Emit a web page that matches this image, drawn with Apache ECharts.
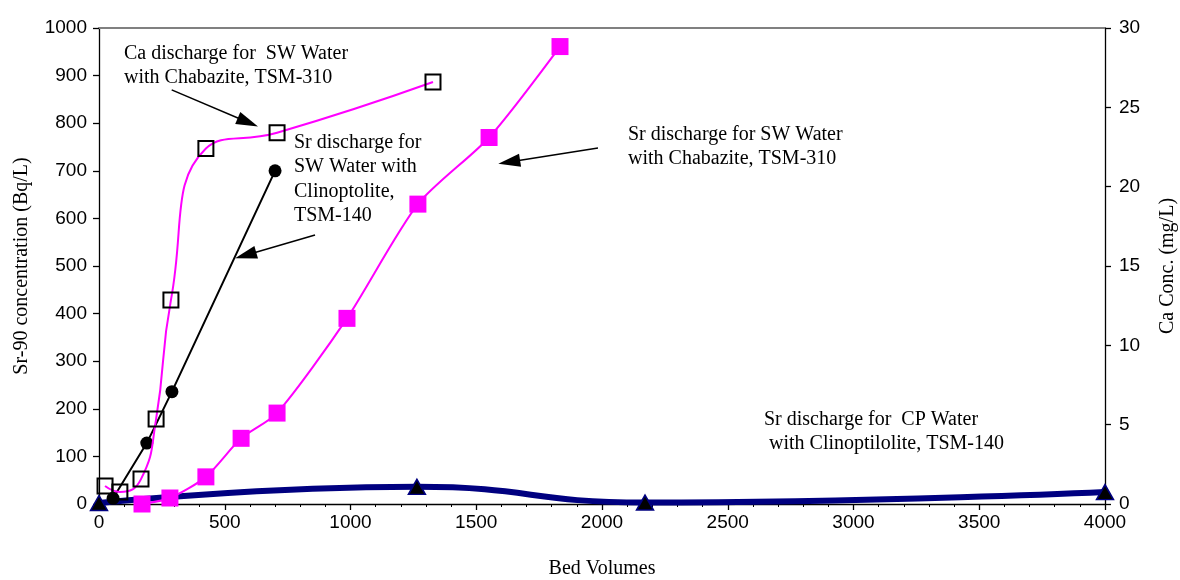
<!DOCTYPE html>
<html>
<head>
<meta charset="utf-8">
<script src="https://cdn.jsdelivr.net/npm/echarts@6/dist/echarts.min.js"></script>
<style>
  html, body { margin: 0; padding: 0; background: #fff; }
  #chart { width: 1180px; height: 580px; }
</style>
</head>
<body>
<div id="chart"></div>
<script>
// Ca discharge, SW water through Chabazite (TSM-310) — right axis, mg/L
const caBedVolumes = [24, 83, 167, 227, 286, 425, 708, 1328];
const caConc = [1.13, 0.76, 1.57, 5.35, 12.85, 22.4, 23.4, 26.6];

// Sr-90 discharge, SW water through Chabazite (TSM-310) — Bq/L
const srChabBedVolumes = [171, 282, 425, 565, 708, 986, 1268, 1551, 1833];
const srChabConc = [0, 12.6, 57, 138, 191, 390, 630, 770, 961];

// Sr-90 discharge, SW water through Clinoptilolite (TSM-140) — Bq/L
const srClinoBedVolumes = [56, 190, 290, 700];
const srClinoConc = [12, 128, 236, 700];

// Sr-90 discharge, CP water through Clinoptilolite (TSM-140) — Bq/L
const cpBedVolumes = [0, 1264, 2171, 4000];
const cpConc = [2, 36, 3, 25];

// Axis ranges and ticks
const xTicks = { min: 0, max: 4000, interval: 500 };
const srTicks = { min: 0, max: 1000, interval: 100 };
const caTicks = { min: 0, max: 30, interval: 5 };

const pairs = (xs, ys) => xs.map((x, i) => [x, ys[i]]);
const plain = v => String(v);

const serif = '"Liberation Serif", "Times New Roman", serif';
const sans = '"Liberation Sans", Arial, sans-serif';

const chart = echarts.init(document.getElementById('chart'), null, { renderer: 'canvas' });

const annoFont = '20px ' + serif;
const annotations = [
  { left: 124, top: 41, text: 'Ca discharge for  SW Water\nwith Chabazite, TSM-310' },
  { left: 294, top: 130, text: 'Sr discharge for\nSW Water with\nClinoptolite,\nTSM-140' },
  { left: 628, top: 122, text: 'Sr discharge for SW Water\nwith Chabazite, TSM-310' },
  { left: 764, top: 407, text: 'Sr discharge for  CP Water\n with Clinoptilolite, TSM-140' }
];

const axisLine = { show: true, onZero: false, lineStyle: { color: '#000', width: 1.3 } };
const tickStyle = { color: '#000', width: 1.3 };
const labelStyle = { fontFamily: sans, fontSize: 19, color: '#000', formatter: plain };

chart.setOption({
  animation: false,
  backgroundColor: '#fff',
  grid: { left: 99, right: 75, top: 28, bottom: 76, containLabel: false, outerBoundsMode: 'none' },
  xAxis: [
    {
      type: 'value', position: 'bottom', min: xTicks.min, max: xTicks.max, interval: xTicks.interval,
      name: 'Bed Volumes', nameLocation: 'middle', nameGap: 55,
      nameTextStyle: { fontFamily: serif, fontSize: 20, color: '#000' },
      axisLine: axisLine,
      axisTick: { show: true, length: 6, lineStyle: tickStyle },
      minorTick: { show: true, splitNumber: 5, length: 3, lineStyle: { color: '#000', width: 1 } },
      axisLabel: Object.assign({ margin: 9 }, labelStyle),
      splitLine: { show: false }
    },
    {
      type: 'value', position: 'top', min: xTicks.min, max: xTicks.max,
      axisLine: { show: true, onZero: false, lineStyle: { color: '#808080', width: 2 } },
      axisTick: { show: false }, axisLabel: { show: false },
      splitLine: { show: false }, minorTick: { show: false }
    }
  ],
  yAxis: [
    {
      type: 'value', position: 'left', min: srTicks.min, max: srTicks.max, interval: srTicks.interval,
      name: 'Sr-90 concentration (Bq/L)', nameLocation: 'middle', nameGap: 67, nameRotate: 90,
      nameTextStyle: { fontFamily: serif, fontSize: 20, color: '#000' },
      axisLine: axisLine,
      axisTick: { show: true, length: 6, lineStyle: tickStyle },
      axisLabel: Object.assign({ margin: 12 }, labelStyle),
      splitLine: { show: false }
    },
    {
      type: 'value', position: 'right', min: caTicks.min, max: caTicks.max, interval: caTicks.interval,
      name: 'Ca Conc. (mg/L)', nameLocation: 'middle', nameGap: 53, nameRotate: 90,
      nameTextStyle: { fontFamily: serif, fontSize: 20, color: '#000' },
      axisLine: axisLine,
      axisTick: { show: true, length: 6, lineStyle: tickStyle },
      axisLabel: Object.assign({ margin: 14 }, labelStyle),
      splitLine: { show: false }
    }
  ],
  series: [
    {
      name: 'Sr CP water, Clinoptilolite',
      type: 'line', xAxisIndex: 0, yAxisIndex: 0,
      data: pairs(cpBedVolumes, cpConc),
      smooth: 0.5,
      lineStyle: { color: '#000080', width: 6 },
      symbol: 'triangle', symbolSize: [17, 15],
      itemStyle: { color: '#000', borderColor: '#000080', borderWidth: 1.5 },
      z: 2
    },
    {
      name: 'Sr SW water, Chabazite',
      type: 'line', xAxisIndex: 0, yAxisIndex: 0,
      data: pairs(srChabBedVolumes, srChabConc),
      smooth: 0.25,
      lineStyle: { color: '#FF00FF', width: 2 },
      symbol: 'rect', symbolSize: 17,
      itemStyle: { color: '#FF00FF', borderWidth: 0 },
      z: 3
    },
    {
      name: 'Sr SW water, Clinoptilolite',
      type: 'line', xAxisIndex: 0, yAxisIndex: 0,
      data: pairs(srClinoBedVolumes, srClinoConc),
      smooth: false,
      lineStyle: { color: '#000', width: 2 },
      symbol: 'circle', symbolSize: 13,
      itemStyle: { color: '#000', borderWidth: 0 },
      z: 4,
      markLine: {
        silent: true,
        symbol: ['none', 'triangle'],
        symbolSize: [13, 22],
        lineStyle: { color: '#000', width: 1.5, type: 'solid' },
        label: { show: false },
        emphasis: { disabled: true },
        data: [
          [{ coord: [289, 870] }, { coord: [592, 802] }],
          [{ coord: [859, 565] }, { coord: [583, 522.6] }],
          [{ coord: [1984, 748] }, { coord: [1631, 718.6] }]
        ]
      }
    },
    {
      name: 'Ca SW water, Chabazite',
      type: 'line', xAxisIndex: 0, yAxisIndex: 1,
      data: pairs(caBedVolumes, caConc),
      smooth: 0.5,
      lineStyle: { color: '#FF00FF', width: 2 },
      symbol: 'rect', symbolSize: 15,
      itemStyle: { color: 'rgba(255,255,255,0)', borderColor: '#000', borderWidth: 2 },
      z: 5
    }
  ],
  graphic: annotations.map(a => ({
    type: 'text', left: a.left, top: a.top, z: 10,
    style: { text: a.text, font: annoFont, fill: '#000', lineHeight: 24.5 }
  }))
});
</script>
</body>
</html>
